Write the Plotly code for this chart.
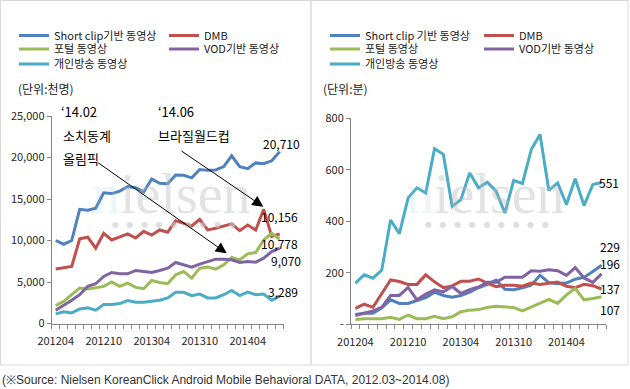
import plotly.graph_objects as go

# ---------------- data ----------------
months = ["201204", "201205", "201206", "201207", "201208", "201209", "201210", "201211",
          "201212", "201301", "201302", "201303", "201304", "201305", "201306", "201307",
          "201308", "201309", "201310", "201311", "201312", "201401", "201402", "201403",
          "201404", "201405", "201406", "201407", "201408"]
tick_labels = ["201204", "201210", "201304", "201310", "201404"]

series_names_left = ["Short clip기반 동영상", "DMB", "포털 동영상", "VOD기반 동영상", "개인방송 동영상"]
series_names_right = ["Short clip 기반 동영상", "DMB", "포털 동영상", "VOD기반 동영상", "개인방송 동영상"]

# users (thousand persons)
users_shortclip = [10000, 9550, 10000, 13750, 13650, 13900, 15750, 15650, 15950, 16500,
                   16350, 15850, 17400, 16900, 16850, 17900, 17850, 17550, 18550, 18450,
                   18500, 18900, 20200, 18900, 18650, 19350, 19250, 19600, 20710]
users_dmb = [6560, 6680, 6870, 10200, 10400, 9070, 10870, 10070, 10400, 10800,
             10300, 11100, 10650, 11270, 11000, 12390, 12070, 11750, 12550, 11270,
             11470, 11750, 12000, 11190, 11870, 11270, 13750, 10500, 10778]
users_portal = [2160, 2670, 3470, 4270, 4150, 4270, 4470, 5000, 4470, 4870,
                4350, 4190, 5190, 4950, 4790, 5870, 6270, 5470, 6670, 6790,
                6550, 7070, 7950, 7670, 8390, 8550, 10070, 10870, 10156]
users_vod = [1600, 2160, 2790, 3470, 4470, 4790, 5670, 6150, 5990, 5990,
             6390, 6270, 6150, 6390, 6670, 7350, 7070, 6790, 7150, 7470,
             7750, 7750, 7670, 7350, 7470, 7390, 7870, 8670, 9070]
users_personal = [1160, 1400, 1280, 1760, 1880, 1600, 2280, 2280, 2400, 2760,
                  2560, 2560, 2680, 2800, 3080, 3750, 3750, 3360, 3550, 3080,
                  3080, 3470, 3990, 3360, 3790, 3470, 3550, 2800, 3289]

# time spent (minutes)
min_shortclip = [38, 43, 43, 64, 95, 81, 81, 92, 104, 125, 112, 105, 112, 125, 142,
                 155, 172, 136, 134, 142, 152, 190, 162, 158, 160, 175, 182, 205, 229]
min_dmb = [62, 78, 66, 120, 172, 166, 155, 155, 192, 165, 142, 149, 167, 167, 176,
           160, 146, 152, 152, 148, 160, 155, 160, 164, 148, 142, 155, 150, 137]
min_portal = [19, 22, 22, 22, 27, 19, 36, 22, 22, 31, 22, 29, 49, 55, 57,
              65, 70, 68, 65, 52, 68, 81, 97, 81, 114, 140, 95, 100, 107]
min_vod = [34, 42, 52, 66, 112, 112, 143, 95, 117, 134, 126, 147, 120, 135, 145,
           163, 163, 183, 183, 183, 208, 206, 212, 208, 190, 220, 180, 163, 196]
min_personal = [160, 192, 179, 211, 405, 352, 491, 530, 510, 682, 660, 458, 484, 588, 530,
                552, 517, 432, 559, 547, 679, 737, 520, 549, 465, 565, 461, 543, 551]

colors = ["#4F81BD", "#C0504D", "#9BBB59", "#8064A2", "#4BACC6"]

W, H = 630, 389
def px(x):
    return x / W
def py(y):
    return 1 - y / H

FONT = "Noto Sans CJK KR"
xi = list(range(len(months)))
tickvals = [months.index(t) for t in tick_labels]
minor_vals = [i - 0.5 for i in range(len(months) + 1)]

fig = go.Figure()

left_data = [users_shortclip, users_dmb, users_portal, users_vod, users_personal]
right_data = [min_shortclip, min_dmb, min_portal, min_vod, min_personal]

# legend slots (line start x, row y)
left_slots = [(17, 21.5), (167, 21.5), (17, 35), (167, 35), (17, 50)]
right_slots = [(328, 21.5), (482, 21.5), (328, 35), (482, 35), (328, 50)]
LEG_DY = 14

legend_layout = {}
n = 1
for k in range(5):
    name = "legend" if n == 1 else f"legend{n}"
    fig.add_trace(go.Scatter(x=xi, y=left_data[k], mode="lines", name=series_names_left[k],
                             line=dict(color=colors[k], width=3), xaxis="x", yaxis="y",
                             legend=name, hoverinfo="skip"))
    lx, ly = left_slots[k]
    legend_layout[name] = dict(x=px(lx - 3), y=py(ly + LEG_DY), xanchor="left", yanchor="middle",
                               bgcolor="rgba(0,0,0,0)", borderwidth=0,
                               font=dict(family=FONT, size=11, color="#1a1a1a"))
    n += 1
for k in range(5):
    name = f"legend{n}"
    fig.add_trace(go.Scatter(x=xi, y=right_data[k], mode="lines", name=series_names_right[k],
                             line=dict(color=colors[k], width=3), xaxis="x2", yaxis="y2",
                             legend=name, hoverinfo="skip"))
    lx, ly = right_slots[k]
    legend_layout[name] = dict(x=px(lx - 3), y=py(ly + LEG_DY), xanchor="left", yanchor="middle",
                               bgcolor="rgba(0,0,0,0)", borderwidth=0,
                               font=dict(family=FONT, size=11, color="#1a1a1a"))
    n += 1

axis_common = dict(showgrid=False, zeroline=False, showline=True, linecolor="#868686",
                   linewidth=1, automargin=False,
                   tickfont=dict(family=FONT, size=11, color="#262626"))

fig.update_layout(
    width=W, height=H, margin=dict(l=0, r=0, t=0, b=0),
    paper_bgcolor="white", plot_bgcolor="rgba(0,0,0,0)",
    hovermode=False, showlegend=True,
    font=dict(family=FONT, size=11, color="#262626"),
    xaxis=dict(domain=[px(51.7), px(283.7)], range=[-0.5, len(months) - 0.5],
               tickmode="array", tickvals=tickvals, ticktext=tick_labels, ticks="",
               ticklabelstandoff=7,
               minor=dict(tickmode="array", tickvals=minor_vals, ticks="outside",
                          ticklen=4, tickcolor="#868686", showgrid=False),
               anchor="y", **axis_common),
    yaxis=dict(domain=[py(323.5), py(116)], range=[0, 25000],
               tickmode="array", tickvals=[0, 5000, 10000, 15000, 20000, 25000],
               tickformat=",", ticks="outside", ticklen=4, tickcolor="#868686",
               anchor="x", **axis_common),
    xaxis2=dict(domain=[px(351), px(606)], range=[-0.5, len(months) - 0.5],
                tickmode="array", tickvals=tickvals, ticktext=tick_labels, ticks="",
                ticklabelstandoff=7,
                minor=dict(tickmode="array", tickvals=minor_vals, ticks="outside",
                           ticklen=4, tickcolor="#868686", showgrid=False),
                anchor="y2", **axis_common),
    yaxis2=dict(domain=[py(324.3), py(118.3)], range=[0, 800],
                tickmode="array", tickvals=[0, 200, 400, 600, 800],
                ticktext=["-", "200", "400", "600", "800"],
                ticks="outside", ticklen=4, tickcolor="#868686",
                anchor="x2", **axis_common),
    **legend_layout,
)

ann = []
# watermark
for cx in (171.5, 485):
    ann.append(dict(xref="paper", yref="paper", x=px(cx), y=py(194), xanchor="center", yanchor="middle",
                    text='<span style="color:rgba(150,205,228,0.45)">n</span>ielsen',
                    showarrow=False, font=dict(family="Liberation Serif", size=56,
                                               color="rgba(185,185,185,0.4)")))
    ann.append(dict(xref="paper", yref="paper", x=px(cx + 2), y=py(224), xanchor="center", yanchor="middle",
                    text="●\u00a0\u00a0\u00a0●\u00a0\u00a0\u00a0●\u00a0\u00a0\u00a0●\u00a0\u00a0\u00a0●\u00a0\u00a0\u00a0●\u00a0\u00a0\u00a0●\u00a0\u00a0\u00a0●\u00a0\u00a0\u00a0●",
                    showarrow=False, font=dict(family="DejaVu Sans", size=8,
                                               color="rgba(200,200,200,0.6)")))

# unit labels
ann.append(dict(xref="paper", yref="paper", x=px(16), y=py(88), xanchor="left", yanchor="middle",
                text="(단위:천명)", showarrow=False, font=dict(family=FONT, size=12, color="#1a1a1a")))
ann.append(dict(xref="paper", yref="paper", x=px(321), y=py(88), xanchor="left", yanchor="middle",
                text="(단위:분)", showarrow=False, font=dict(family=FONT, size=12, color="#1a1a1a")))

# event notes
for txt, lx, ly in [("‘14.02", 59, 112), ("소치동계", 61, 135), ("올림픽", 61, 158),
                    ("‘14.06", 156, 112), ("브라질월드컵", 156, 135)]:
    ann.append(dict(xref="paper", yref="paper", x=px(lx), y=py(ly), xanchor="left", yanchor="middle",
                    text=txt, showarrow=False, font=dict(family=FONT, size=13, color="#000")))

# arrows (head, tail)
for hx, hy, tx, ty in [(226.7, 253.3, 96.7, 161.7), (263.3, 206.7, 180, 150)]:
    ann.append(dict(xref="paper", yref="paper", x=px(hx), y=py(hy), ax=tx - hx, ay=ty - hy,
                    text="", showarrow=True, arrowhead=2, arrowsize=2.2, arrowwidth=1,
                    arrowcolor="#000"))

# value labels at last points
last = len(months) - 1
left_labels = [(users_shortclip, 2, 8), (users_portal, 0, 22.5), (users_dmb, 0, -9),
               (users_vod, 6, -12.5), (users_personal, 3, 5)]
for series, xs, ys in left_labels:
    ann.append(dict(xref="x", yref="y", x=last, y=series[-1], xshift=xs, yshift=ys,
                    text=f"{series[-1]:,}", showarrow=False, xanchor="center", yanchor="middle",
                    font=dict(family=FONT, size=12, color="#000")))
right_labels = [(min_personal, 7, 0), (min_shortclip, 8, 19), (min_vod, 8, 10.7),
                (min_dmb, 8, 0.8), (min_portal, 8, -13)]
for series, xs, ys in right_labels:
    ann.append(dict(xref="x2", yref="y2", x=last, y=series[-1], xshift=xs, yshift=ys,
                    text=f"{series[-1]:,}", showarrow=False, xanchor="center", yanchor="middle",
                    font=dict(family=FONT, size=12, color="#000")))

# source note
ann.append(dict(xref="paper", yref="paper", x=0, y=py(380), xanchor="left", yanchor="middle",
                text="(※Source: Nielsen KoreanClick Android Mobile Behavioral DATA, 2012.03~2014.08)",
                showarrow=False, font=dict(family="Liberation Sans", size=12, color="#333")))

fig.update_layout(annotations=ann)

# chart borders
fig.update_layout(shapes=[
    dict(type="rect", xref="paper", yref="paper", x0=px(0.5), x1=px(311), y0=py(365), y1=py(0.5),
         line=dict(color="#d9d9d9", width=1)),
    dict(type="rect", xref="paper", yref="paper", x0=px(311), x1=px(628), y0=py(365), y1=py(0.5),
         line=dict(color="#d9d9d9", width=1)),
])

fig.write_html("out.html", config={"displayModeBar": False},
               post_script="document.body.style.margin='0';document.body.style.overflow='hidden';")
